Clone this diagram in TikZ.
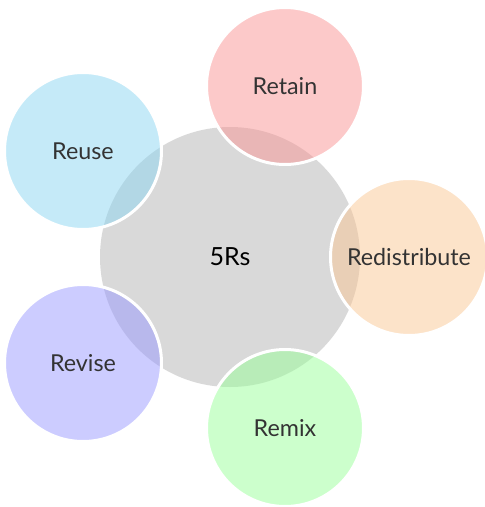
\documentclass[tikz,border=0pt]{standalone}
\usepackage{fontspec}
\setmainfont{Lato}
\begin{document}
\begin{tikzpicture}[x=1pt,y=-1pt,
  hub/.style={circle,fill=hubgray,minimum size=260pt,inner sep=0pt,text=black,font=\fontsize{25}{29}\selectfont},
  sat/.style={circle,minimum size=157pt,inner sep=0pt,draw=white,line width=3pt,fill opacity=0.5,draw opacity=1,text opacity=1,text=labgray,font=\fontsize{23.3}{27}\selectfont}]
\definecolor{hubgray}{HTML}{D9D9D9}
\definecolor{labgray}{HTML}{333333}
\definecolor{cretain}{rgb}{0.98,0.58,0.58}
\definecolor{credis}{rgb}{0.98,0.78,0.58}
\definecolor{cremix}{rgb}{0.6,1,0.6}
\definecolor{crevise}{rgb}{0.6,0.6,1}
\definecolor{creuse}{rgb}{0.55,0.84,0.95}
\useasboundingbox (0,0) rectangle (485,507);
\node[hub] (c) at (230,257) {5Rs};
\node[sat,fill=cretain] (retain) at (285,86) {Retain};
\node[sat,fill=credis] (redis) at (409,257) {Redistribute};
\node[sat,fill=cremix] (remix) at (285,428) {Remix};
\node[sat,fill=crevise] (revise) at (83,363) {Revise};
\node[sat,fill=creuse] (reuse) at (83,151) {Reuse};
\end{tikzpicture}
\end{document}
